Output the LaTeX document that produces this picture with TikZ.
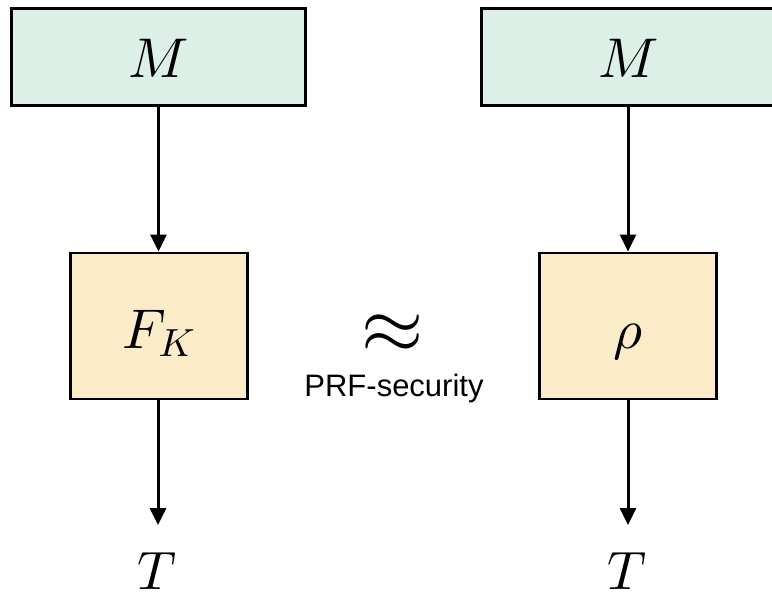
\documentclass[tikz,border=0pt]{standalone}
\usepackage{fontspec}
\newfontfamily\labelfont{Liberation Sans}
\usetikzlibrary{arrows.meta}

% scalable Computer Modern math fonts for large symbols
\DeclareFontFamily{OML}{cmm}{\skewchar\font127 }
\DeclareFontShape{OML}{cmm}{m}{it}{<-> cmmi10}{}
\DeclareFontFamily{OMS}{cmsy}{\skewchar\font48 }
\DeclareFontShape{OMS}{cmsy}{m}{n}{<-> cmsy10}{}
\DeclareFontFamily{OMX}{cmex}{}
\DeclareFontShape{OMX}{cmex}{m}{n}{<-> cmex10}{}

\definecolor{mintfill}{HTML}{DDF0E7}
\definecolor{wheatfill}{HTML}{FCEBC9}

\tikzset{
  msgbox/.style={draw=black, line width=2.8pt, fill=mintfill,
    minimum width=294pt, minimum height=97pt, inner sep=0pt,
    text height=42pt, text depth=0pt,
    font=\fontsize{56}{60}\selectfont},
  funcbox/.style={draw=black, line width=2.8pt, fill=wheatfill,
    minimum width=177pt, minimum height=146pt, inner sep=0pt,
    text height=44pt, text depth=0pt,
    font=\fontsize{56}{60}\selectfont},
  outlabel/.style={inner sep=0pt, anchor=base,
    font=\fontsize{54}{58}\selectfont},
  flow/.style={line width=3pt, -{Triangle[length=17pt,width=16pt]}}
}

\begin{document}
\begin{tikzpicture}[x=1pt, y=-1pt]
  \useasboundingbox (0,0) rectangle (772,599);
  \clip (0,0) rectangle (772,599);

  % left column: message, keyed function, tag
  \node[msgbox]  (mL) at (158.5,57) {$M$};
  \node[funcbox] (fL) at (159,326)  {$F_K$};
  \node[outlabel] (tL) at (157,589) {$T$};
  \coordinate (endL) at (158,525);

  % right column: message, random function, tag
  \node[msgbox]  (mR) at (628.5,57) {$M$};
  \node[funcbox] (fR) at (628,326)  {$\rho$};
  \node[outlabel] (tR) at (627,589) {$T$};
  \coordinate (endR) at (628,525);

  % indistinguishability sign between the two columns
  \node[inner sep=0pt, font=\fontsize{80}{80}\selectfont] (approx) at (393,334) {$\approx$};
  \node[inner sep=0pt, anchor=base, font=\labelfont\fontsize{31}{34}\selectfont]
    (prf) at (394,396) {PRF-security};

  % data flow
  \draw[flow] (mL.south) -- (mL.south |- fL.north);
  \draw[flow] (fL.south -| endL) -- (endL);
  \draw[flow] (mR.south -| fR.north) -- (fR.north);
  \draw[flow] (fR.south) -- (endR);
\end{tikzpicture}
\end{document}
